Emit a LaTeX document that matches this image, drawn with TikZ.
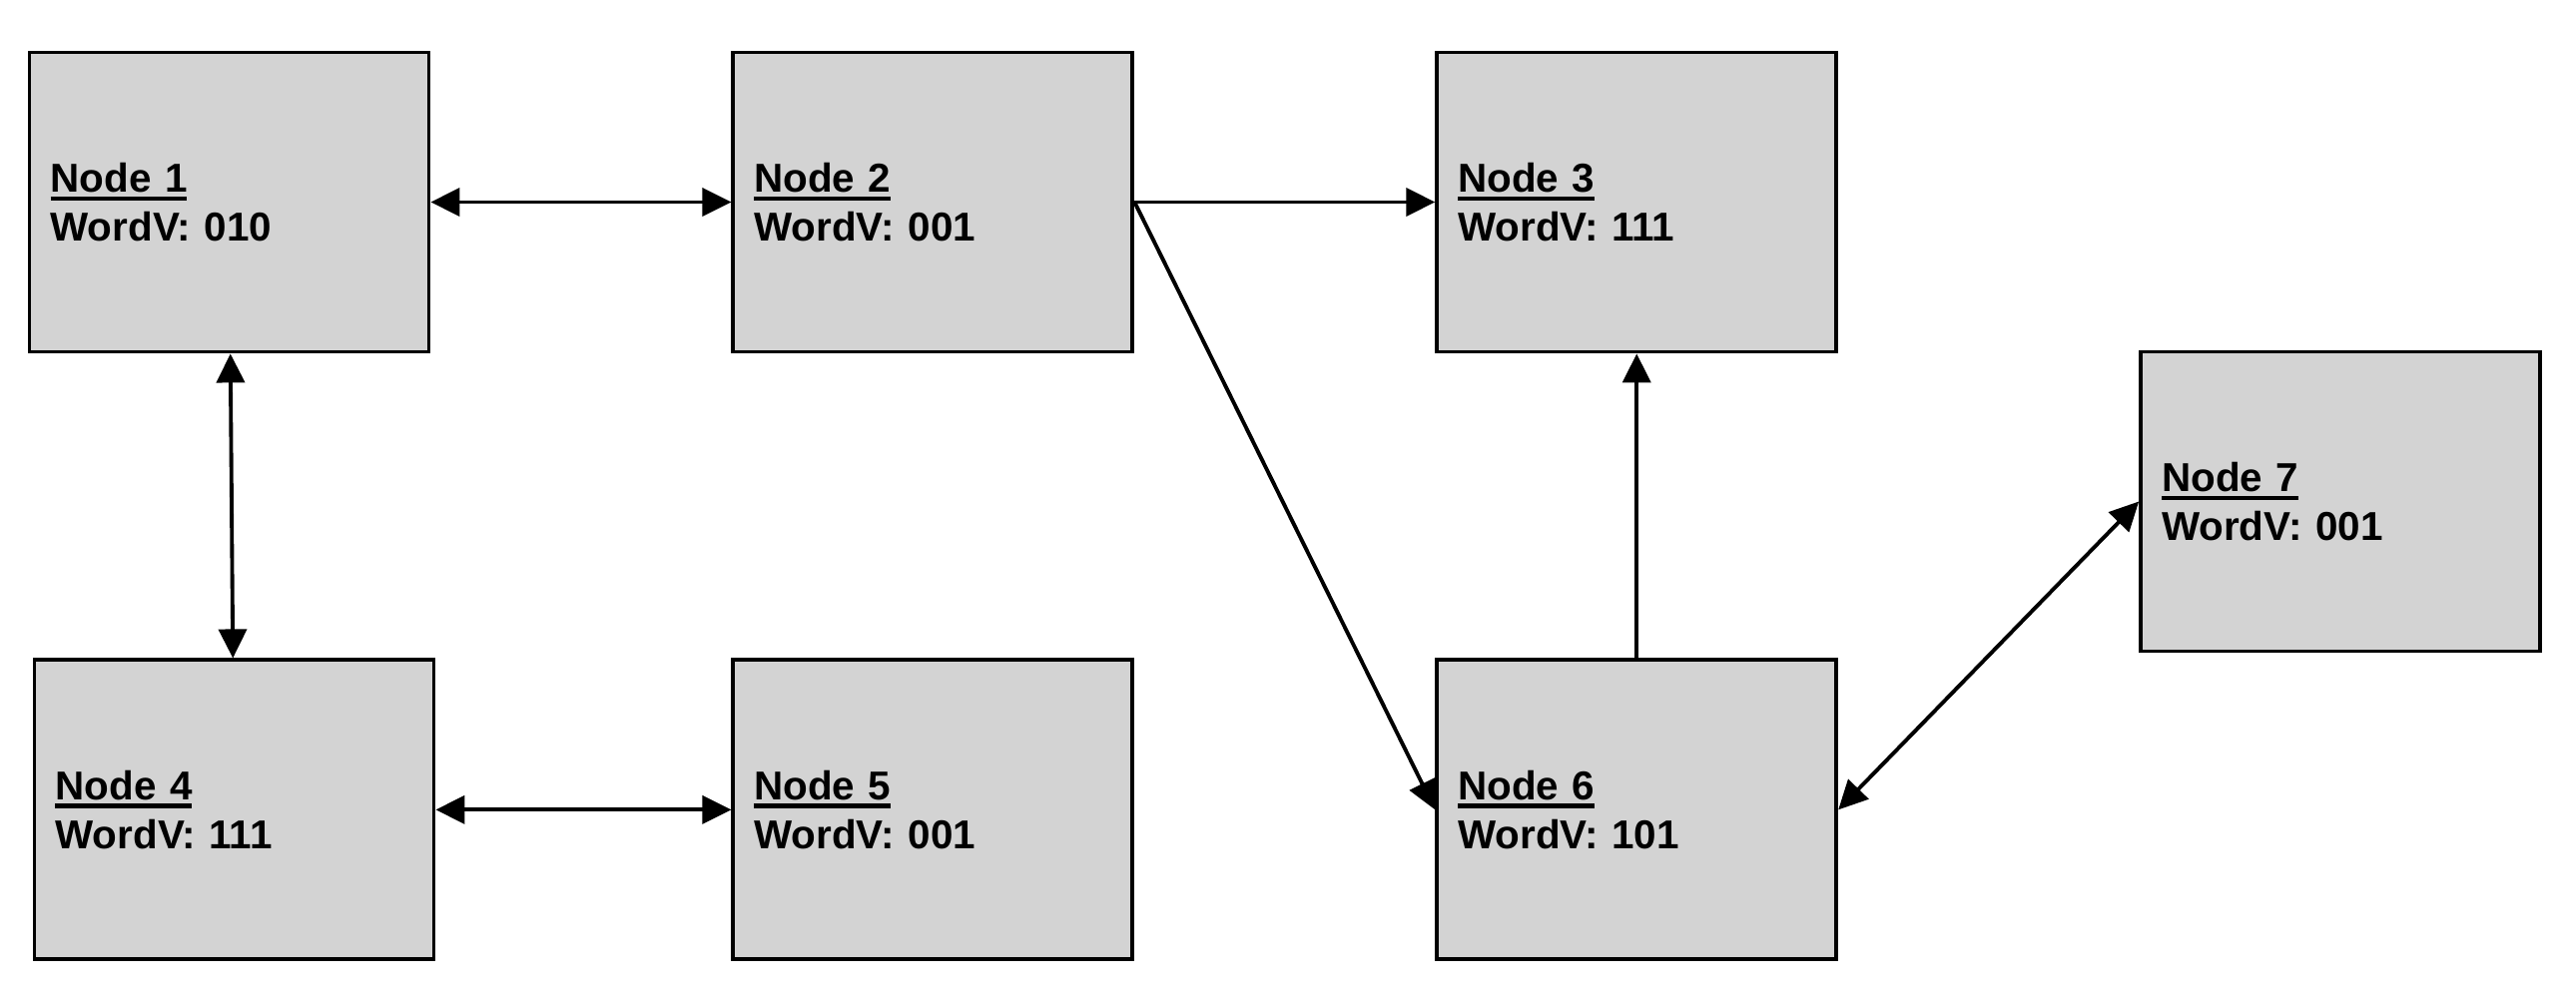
\documentclass[tikz,border=0pt]{standalone}
\usepackage{fontspec}
\setmainfont{Liberation Sans}
\usetikzlibrary{positioning,arrows.meta}
\definecolor{boxgray}{RGB}{211,211,211}
\newcommand{\nodehead}[1]{\setbox0\hbox{#1}\rlap{\rule[-2.4pt]{\wd0}{1.2pt}}\box0}

\begin{document}
\begin{tikzpicture}[
        node distance=3.05cm and 3.01cm,
        box/.style={rectangle, draw, line width=1.1pt, fill=boxgray, minimum width=4cm, minimum height=3cm, text width=3.58cm, inner xsep=0.21cm, align=left, font=\fontsize{11.5}{14}\selectfont\bfseries},
        arr/.style={-{Triangle[length=0.29cm, width=0.28cm]}, line width=1.1pt},
        biarr/.style={{Triangle[length=0.29cm, width=0.28cm]}-{Triangle[length=0.29cm, width=0.28cm]}, line width=1.1pt},
    ]
    \useasboundingbox (0,0) rectangle (25.8,-10.02);

    % === Top row ===
    \node[box] (node1) at (2.295,-2.025) {\nodehead{Node 1}\\WordV: 010};
    \node[box, right=of node1] (node2) {\nodehead{Node 2}\\WordV: 001};
    \node[box, right=of node2] (node3) {\nodehead{Node 3}\\WordV: 111};

    % === Bottom row ===
    \node[box, below=of node1, xshift=0.05cm] (node4) {\nodehead{Node 4}\\WordV: 111};
    \node[box, below=of node2] (node5) {\nodehead{Node 5}\\WordV: 001};
    \node[box, below=of node3] (node6) {\nodehead{Node 6}\\WordV: 101};

    % Right
    \node[box, right=of node3, yshift=-3cm] (node7) {\nodehead{Node 7}\\WordV: 001};

    % === Edges ===
    \draw[biarr] (node1) -- (node2);
    \draw[arr] (node2) -- (node3);
    \draw[biarr] (node1) -- (node4);
    \draw[biarr] (node4) -- (node5);
    \draw[arr] (node2.east) -- (node6.west);
    \draw[arr] (node6) -- (node3);
    \draw[biarr] (node6.east) -- (node7.west);

\end{tikzpicture}
\end{document}
